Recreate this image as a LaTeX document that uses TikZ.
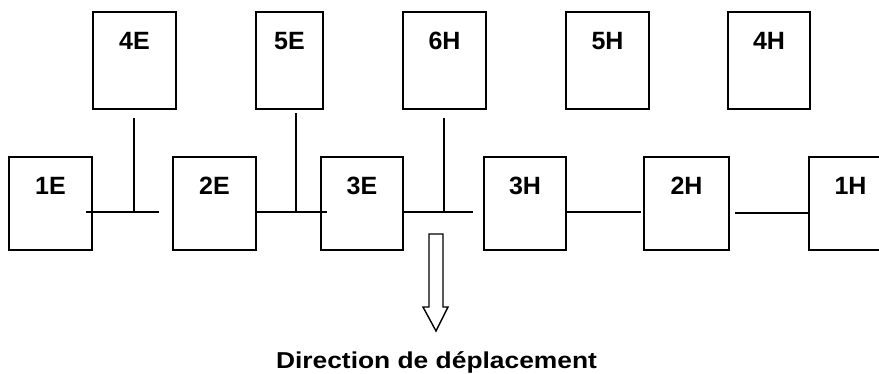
\documentclass[tikz,border=0pt]{standalone}
\usepackage{fontspec}
\usepackage{graphicx}
\setmainfont{Liberation Sans}
\usetikzlibrary{calc}
\begin{document}
\begin{tikzpicture}[x=1pt,y=-1pt,
  box/.style={draw, line width=1.8pt, inner sep=0pt, minimum height=#1},
  lbl/.style={inner sep=0pt, anchor=north, yshift=-21pt, font=\bfseries\fontsize{25}{30}\selectfont},
  conn/.style={line width=1.4pt},
  hollow/.style={draw, line width=1.4pt, fill=white, line join=miter}]
\useasboundingbox (0,0) rectangle (879,373);
\clip (0,0) rectangle (879,373);
% top row
\node[box=97pt, minimum width=83pt, label={[lbl]north:4E}] (e4) at (134.5,60.5) {};
\node[box=97pt, minimum width=67pt, label={[lbl]north:5E}] (e5) at (289.5,60.5) {};
\node[box=97pt, minimum width=83pt, label={[lbl]north:6H}] (h6) at (444.5,60.5) {};
\node[box=97pt, minimum width=83pt, label={[lbl]north:5H}] (h5) at (607.5,60.5) {};
\node[box=97pt, minimum width=82pt, label={[lbl]north:4H}] (h4) at (769,60.5) {};
% bottom row
\node[box=93pt, minimum width=83pt, label={[lbl]north:1E}] (e1) at (50.5,203.5) {};
\node[box=93pt, minimum width=83pt, label={[lbl]north:2E}] (e2) at (214.5,203.5) {};
\node[box=93pt, minimum width=82pt, label={[lbl]north:3E}] (e3) at (362,203.5) {};
\node[box=93pt, minimum width=82pt, label={[lbl]north:3H}] (h3) at (525,203.5) {};
\node[box=93pt, minimum width=85pt, label={[lbl]north:2H}] (h2) at (686.5,203.5) {};
\node[box=93pt, minimum width=83pt, label={[lbl]north:1H}] (h1) at (850.5,203.5) {};
% connector coordinates
\coordinate (a1) at (86,212);
\coordinate (b1) at (159,212);
\coordinate (j1) at (134,212);
\coordinate (t1) at (134,118);
\coordinate (a2) at (256,212);
\coordinate (b2) at (327,212);
\coordinate (j2) at (296,212);
\coordinate (t2) at (296,113);
\coordinate (a3) at (403,212);
\coordinate (b3) at (473,212);
\coordinate (j3) at (444,212);
\coordinate (t3) at (444,118);
\coordinate (b4) at (641,212);
\coordinate (a5) at (735,213);
% connectors
\draw[conn] (a1) -- (b1);
\draw[conn] (t1) -- (j1);
\draw[conn] (a2) -- (b2);
\draw[conn] (t2) -- (j2);
\draw[conn] (a3) -- (b3);
\draw[conn] (t3) -- (j3);
\draw[conn] (h3.east |- b4) -- (b4);
\draw[conn] (a5) -- (h1.west |- a5);
% hollow arrow
\draw[hollow] (429,234) -- (443,234) -- (443,307) -- (448,307) -- (436,331)
  -- (423,307) -- (429,307) -- cycle;
% caption
\node[anchor=base, inner sep=0pt] (cap) at (436.5,368)
  {\resizebox{321pt}{\height}{\bfseries\fontsize{23}{28}\selectfont Direction de déplacement}};
\end{tikzpicture}
\end{document}
